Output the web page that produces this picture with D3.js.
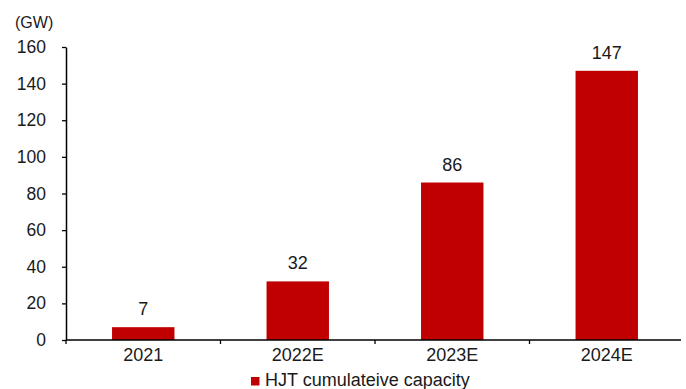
<!DOCTYPE html>
<html>
<head>
<meta charset="utf-8">
<script src="https://cdn.jsdelivr.net/npm/d3@7"></script>
<style>
  html, body { margin: 0; padding: 0; background: #fff; }
  svg { display: block; }
  text { font-family: "Liberation Sans", Arial, sans-serif; fill: #1a1a1a; }
</style>
</head>
<body>
<svg id="chart" width="686" height="389"></svg>
<script>
// HJT cumulative capacity (GW) by year
const categories = ["2021", "2022E", "2023E", "2024E"];
const capacity = [7, 32, 86, 147];
const yTicks = [0, 20, 40, 60, 80, 100, 120, 140, 160];
const seriesName = "HJT cumulateive capacity";
const unitLabel = "(GW)";

const barColor = "#c00000";
const axisColor = "#000";
const fontFamily = "\"Liberation Sans\", Arial, sans-serif";

const svg = d3.select("#chart");
const plot = { left: 66, right: 684, top: 47, bottom: 340 };

const x = d3.scaleBand()
  .domain(categories)
  .range([plot.left, plot.right])
  .padding(0);

const y = d3.scaleLinear()
  .domain([0, 160])
  .range([plot.bottom, plot.top]);

const barWidth = x.bandwidth() * 0.404;

// Bars
svg.append("g")
  .selectAll("rect")
  .data(categories)
  .join("rect")
  .attr("x", (d) => x(d) + (x.bandwidth() - barWidth) / 2)
  .attr("y", (d, i) => y(capacity[i]))
  .attr("width", barWidth)
  .attr("height", (d, i) => y(0) - y(capacity[i]))
  .attr("fill", barColor);

// Value labels
svg.append("g")
  .selectAll("text")
  .data(categories)
  .join("text")
  .attr("x", (d) => x(d) + x.bandwidth() / 2)
  .attr("y", (d, i) => y(capacity[i]) - 12)
  .attr("text-anchor", "middle")
  .attr("font-size", 18)
  .text((d, i) => capacity[i]);

// Y axis
const yAxis = svg.append("g")
  .attr("transform", `translate(${plot.left},0)`)
  .call(d3.axisLeft(y).tickValues(yTicks).tickSize(4).tickPadding(16).tickSizeOuter(0));
yAxis.select(".domain").attr("stroke", axisColor).attr("stroke-width", 1.5);
yAxis.selectAll(".tick line").attr("stroke", axisColor).attr("stroke-width", 1.3);
yAxis.selectAll(".tick text")
  .attr("font-size", 17.5)
  .attr("font-family", fontFamily)
  .attr("fill", "#1a1a1a");

// X axis: ticks at category boundaries
const xAxis = svg.append("g").attr("transform", `translate(0,${plot.bottom})`);
xAxis.append("line")
  .attr("x1", plot.left).attr("x2", plot.right - 3)
  .attr("y1", 0).attr("y2", 0)
  .attr("stroke", axisColor).attr("stroke-width", 1.5);
xAxis.selectAll("line.tick")
  .data(categories.slice(1))
  .join("line")
  .attr("class", "tick")
  .attr("x1", (d) => x(d)).attr("x2", (d) => x(d))
  .attr("y1", 0).attr("y2", 4)
  .attr("stroke", axisColor).attr("stroke-width", 1.3);
xAxis.append("line")
  .attr("x1", plot.left).attr("x2", plot.left)
  .attr("y1", 0).attr("y2", 4)
  .attr("stroke", axisColor).attr("stroke-width", 1.3);
xAxis.selectAll("text")
  .data(categories)
  .join("text")
  .attr("x", (d) => x(d) + x.bandwidth() / 2)
  .attr("y", 21)
  .attr("text-anchor", "middle")
  .attr("font-size", 18)
  .text((d) => d);

// Unit label
svg.append("text")
  .attr("x", 15)
  .attr("y", 28)
  .attr("font-size", 16)
  .text(unitLabel);

// Legend
const legend = svg.append("g").attr("transform", "translate(251,377)");
legend.append("rect")
  .attr("width", 8.5).attr("height", 8.5)
  .attr("fill", barColor);
legend.append("text")
  .attr("x", 14)
  .attr("y", 8.5)
  .attr("font-size", 18)
  .text(seriesName);
</script>
</body>
</html>
